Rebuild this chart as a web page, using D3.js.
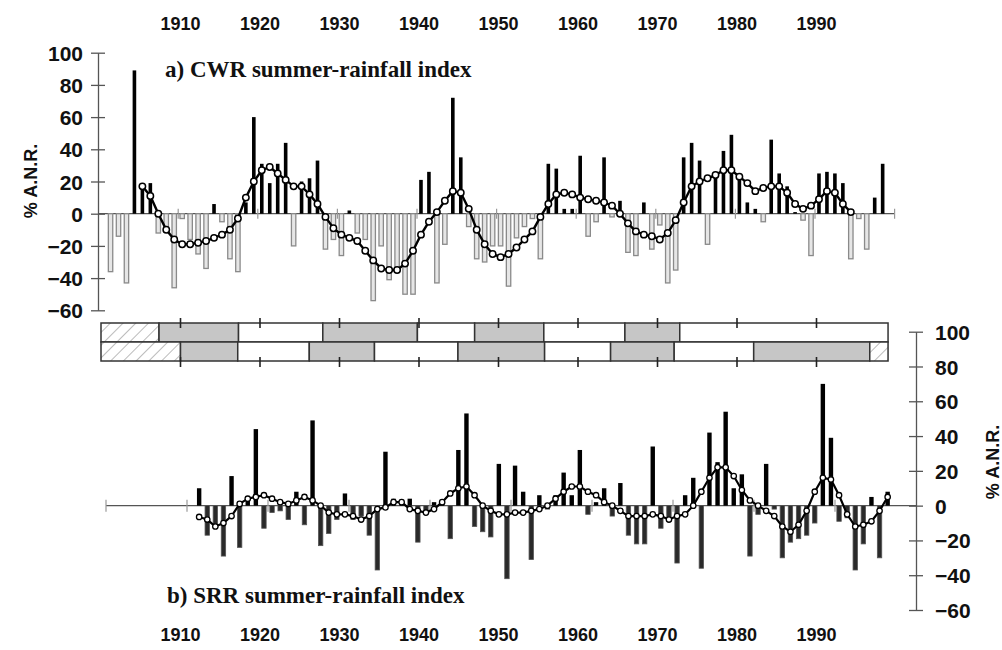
<!DOCTYPE html>
<html><head><meta charset="utf-8">
<script src="https://cdn.jsdelivr.net/npm/d3@7"></script>
<style>body{margin:0;background:#fff}svg{display:block}</style>
</head><body>
<svg id="c" width="1002" height="650"></svg>
<script>
// ---------- DATA ----------
const yearLabels = [1910,1920,1930,1940,1950,1960,1970,1980,1990];
const yTickValues = [100,80,60,40,20,0,-20,-40,-60];

// a) CWR summer-rainfall index, 1901-1998
const cwrYears = d3.range(1901, 1999);
const cwrValues = [-36,-14,-43,89,19,19,-12,-8,-46,-3,
  -16,-25,-34,6,-5,-28,-36,7,60,31,
  19,31,44,-20,20,22,33,-22,-16,-26,
  2,-12,-16,-54,-20,-41,-35,-50,-50,21,
  26,-43,-19,72,35,-8,-28,-30,-20,-20,
  -45,-15,-8,-3,-28,31,28,3,3,36,
  -14,-5,35,-2,8,-24,-26,7,-22,-7,
  -43,-35,35,44,33,-19,25,39,49,21,
  7,3,-5,46,25,17,1,-4,-26,25,
  26,25,19,-28,-3,-22,10,31];
// smoothed CWR, 1905-1994
const cwrSmoothYears = d3.range(1905, 1995);
const cwrSmooth = [17,11,0,-10,-16,-19,-19,-18,-17,-15,
  -13,-10,-3,10,20,27,29,25,21,17,
  17,12,6,-2,-9,-13,-15,-17,-23,-29,
  -34,-35,-35,-31,-23,-13,-5,1,8,14,
  13,3,-10,-19,-25,-27,-25,-21,-16,-11,
  -2,6,12,13,12,10,9,8,7,5,
  0,-6,-11,-13,-14,-16,-12,-4,7,17,
  20,22,24,27,27,23,19,14,16,17,
  17,13,6,3,5,9,14,13,6,1];

// b) SRR summer-rainfall index, 1911-1996
const srrYears = d3.range(1911, 1997);
const srrValues = [10,-17,-12,-29,17,-24,3,44,-13,-4,
  -3,-8,8,-11,49,-23,-16,-8,7,-8,
  -6,-17,-37,31,4,2,4,-21,-3,2,
  1,-19,32,53,-12,-15,-18,24,-42,23,
  8,-31,6,-2,6,19,6,32,-5,2,
  10,-6,13,-17,-22,-22,34,-13,-9,-33,
  6,16,-36,42,25,54,10,18,-29,-5,
  24,-2,-30,-21,-19,-17,-10,70,39,-9,
  -7,-37,-22,5,-30,8];
const srrSmooth = [-6.5,-8,-12,-10,-6,1,4,5,6,4,
  2,1,3,5,3,0,-4,-5,-5,-6,
  -8,-6,-2,-1,2,2,-2,-3,-4,-2,
  2,7,10,11,6,0,-3,-5,-5,-4,
  -4,-3,-2,0,4,8,11,11,8,6,
  2,0,-3,-6,-6,-6,-5,-6,-8,-6,
  -5,0,8,16,22,22,17,9,3,0,
  -3,-6,-12,-15,-11,-3,8,16,15,6,
  -5,-12,-11,-9,-3,5];

// wet/dry spell band (boundaries in years)
const bandTopBreaks = [1900,1907.3,1917.3,1927.9,1939.8,1947,1955.7,1965.9,1972.8,1999];
const bandTopKinds  = ["hatch","grey","white","grey","white","grey","white","grey","white"];
const bandBotBreaks = [1900,1910,1917.2,1926.2,1934.4,1944.9,1955.8,1964.1,1972.1,1982.1,1996.7,1999];
const bandBotKinds  = ["hatch","grey","white","grey","white","grey","white","grey","white","grey","hatch"];

// ---------- DRAW ----------
const svg = d3.select("#c");
svg.append("rect").attr("width",1002).attr("height",650).attr("fill","#fff");
const SANS = "'Liberation Sans', Arial, Helvetica, sans-serif";
const SERIF = "'Liberation Serif', 'Times New Roman', serif";
const AX = "#555";

const defs = svg.append("defs");
const pat = defs.append("pattern").attr("id","hatch").attr("patternUnits","userSpaceOnUse")
  .attr("width",9).attr("height",9).attr("patternTransform","rotate(45)");
pat.append("rect").attr("width",9).attr("height",9).attr("fill","#fff");
pat.append("line").attr("x1",0).attr("y1",0).attr("x2",0).attr("y2",9).attr("stroke","#aaa").attr("stroke-width",1.6);

// scales
const xTop = d3.scaleLinear().domain([1900,2000]).range([98.6, 894.6]);
const yTop = d3.scaleLinear().domain([-60,100]).range([310.3, 52.7]);
const xBot = d3.scaleLinear().domain([1900,2000]).range([106, 916]);
const yBot = d3.scaleLinear().domain([-60,100]).range([610, 331.7]);
const xBand = d3.scaleLinear().domain([1900,2000]).range([101, 896]);
const decades = d3.range(1900, 2001, 10);

// ---- Top panel ----
const gT = svg.append("g");
const axL = d3.axisLeft(yTop).tickValues(yTickValues).tickSize(0).tickPadding(0).tickFormat(d3.format("d"));
const gAxL = gT.append("g").attr("transform","translate(98,0)").call(axL);
gAxL.select(".domain").attr("stroke",AX).attr("stroke-width",1.3);
gAxL.selectAll(".tick text").attr("x",-15).attr("font-family",SANS).attr("font-weight","bold")
  .attr("font-size",21).attr("fill","#111").attr("dy","0.36em");
gAxL.selectAll(".tick").append("line").attr("x1",-7).attr("x2",7).attr("stroke",AX).attr("stroke-width",1.3);

gT.append("line").attr("x1",xTop(1900)).attr("x2",xTop(2000)).attr("y1",yTop(0)).attr("y2",yTop(0))
  .attr("stroke",AX).attr("stroke-width",1.2);
gT.selectAll(".zt").data(decades.slice(1)).join("line")
  .attr("x1",d=>xTop(d)).attr("x2",d=>xTop(d)).attr("y1",yTop(0)-5).attr("y2",yTop(0)+5)
  .attr("stroke","#999").attr("stroke-width",1.2);

const cwr = cwrYears.map((y,i)=>({y, v:cwrValues[i]}));
gT.selectAll(".bn").data(cwr.filter(d=>d.v<0)).join("rect")
  .attr("x",d=>xTop(d.y+0.5)-2.2).attr("width",4.4)
  .attr("y",yTop(0)).attr("height",d=>yTop(d.v)-yTop(0))
  .attr("fill","#e6e6e6").attr("stroke","#8a8a8a").attr("stroke-width",1.3);
gT.selectAll(".bp").data(cwr.filter(d=>d.v>=0)).join("rect")
  .attr("x",d=>xTop(d.y+0.5)-1.8).attr("width",3.6)
  .attr("y",d=>yTop(d.v)).attr("height",d=>yTop(0)-yTop(d.v))
  .attr("fill","#000");

const cs = cwrSmoothYears.map((y,i)=>({y, v:cwrSmooth[i]}));
gT.append("path").datum(cs)
  .attr("d", d3.line().x(d=>xTop(d.y+0.5)).y(d=>yTop(d.v)))
  .attr("fill","none").attr("stroke","#000").attr("stroke-width",2.4);
gT.selectAll(".cc").data(cs).join("circle")
  .attr("cx",d=>xTop(d.y+0.5)).attr("cy",d=>yTop(d.v)).attr("r",3.2)
  .attr("fill","#fff").attr("stroke","#000").attr("stroke-width",1.5);

gT.append("text").attr("x",165).attr("y",77).attr("font-family",SERIF).attr("font-weight","bold")
  .attr("font-size",23).attr("fill","#111").text("a) CWR summer-rainfall index");
gT.append("text").attr("transform","translate(37,181) rotate(-90)").attr("text-anchor","middle")
  .attr("font-family",SANS).attr("font-weight","bold").attr("font-size",18).attr("fill","#111").text("% A.N.R.");

svg.append("g").selectAll("text").data(yearLabels).join("text")
  .attr("x",d=>xBand(d)).attr("y",30).attr("text-anchor","middle")
  .attr("font-family",SANS).attr("font-weight","bold").attr("font-size",18).attr("fill","#111").text(d=>d);
svg.append("g").selectAll("text").data(yearLabels).join("text")
  .attr("x",d=>xBand(d)).attr("y",641).attr("text-anchor","middle")
  .attr("font-family",SANS).attr("font-weight","bold").attr("font-size",18).attr("fill","#111").text(d=>d);

// ---- Band ----
const gB = svg.append("g");
function segs(breaks, kinds){ return kinds.map((k,i)=>({a:breaks[i], b:breaks[i+1], k})); }
const fills = {hatch:"url(#hatch)", grey:"#c6c6c6", white:"#fff"};
const rowY = [{y0:323,y1:342,data:segs(bandTopBreaks,bandTopKinds)},{y0:342,y1:361,data:segs(bandBotBreaks,bandBotKinds)}];
rowY.forEach(r=>{
  gB.append("g").selectAll("rect").data(r.data).join("rect")
    .attr("x",d=>xBand(d.a)).attr("width",d=>xBand(d.b)-xBand(d.a))
    .attr("y",r.y0).attr("height",r.y1-r.y0)
    .attr("fill",d=>fills[d.k]).attr("stroke","#333").attr("stroke-width",1.5);
});
gB.selectAll(".tt").data(yearLabels).join("line")
  .attr("x1",d=>xBand(d)).attr("x2",d=>xBand(d)).attr("y1",318).attr("y2",328)
  .attr("stroke","#222").attr("stroke-width",1.6);
gB.selectAll(".tb").data(yearLabels).join("line")
  .attr("x1",d=>xBand(d)).attr("x2",d=>xBand(d)).attr("y1",357).attr("y2",367)
  .attr("stroke","#222").attr("stroke-width",1.6);

// ---- Bottom panel ----
const gS = svg.append("g");
const axR = d3.axisRight(yBot).tickValues(yTickValues).tickSize(0).tickPadding(0).tickFormat(d3.format("d"));
const gAxR = gS.append("g").attr("transform","translate(916,0)").call(axR);
gAxR.select(".domain").attr("stroke",AX).attr("stroke-width",1.3);
gAxR.selectAll(".tick text").attr("x",19).attr("font-family",SANS).attr("font-weight","bold")
  .attr("font-size",21).attr("fill","#111").attr("dy","0.36em");
gAxR.selectAll(".tick").append("line").attr("x1",-7).attr("x2",7).attr("stroke",AX).attr("stroke-width",1.3);

gS.append("line").attr("x1",xBot(1900)).attr("x2",xBot(2000)).attr("y1",yBot(0)).attr("y2",yBot(0))
  .attr("stroke",AX).attr("stroke-width",1.2);
gS.selectAll(".zt").data(decades.slice(0,-1)).join("line")
  .attr("x1",d=>xBot(d)).attr("x2",d=>xBot(d)).attr("y1",yBot(0)-6).attr("y2",yBot(0)+6)
  .attr("stroke","#999").attr("stroke-width",1.2);

const srr = srrYears.map((y,i)=>({y, v:srrValues[i]}));
gS.selectAll(".b").data(srr).join("rect")
  .attr("x",d=>xBot(d.y+0.5)-2.2).attr("width",4.4)
  .attr("y",d=>yBot(Math.max(0,d.v))).attr("height",d=>Math.abs(yBot(d.v)-yBot(0)))
  .attr("fill",d=>d.v>=0?"#000":"#2a2a2a").attr("stroke",d=>d.v>=0?"none":"#555").attr("stroke-width",0.8);

const ss = srrYears.map((y,i)=>({y, v:srrSmooth[i]}));
gS.append("path").datum(ss)
  .attr("d", d3.line().x(d=>xBot(d.y+0.5)).y(d=>yBot(d.v)))
  .attr("fill","none").attr("stroke","#000").attr("stroke-width",2.2);
gS.selectAll(".sc").data(ss).join("circle")
  .attr("cx",d=>xBot(d.y+0.5)).attr("cy",d=>yBot(d.v)).attr("r",2.7)
  .attr("fill","#fff").attr("stroke","#000").attr("stroke-width",1.3);

gS.append("text").attr("x",167).attr("y",603).attr("font-family",SERIF).attr("font-weight","bold")
  .attr("font-size",23).attr("fill","#111").text("b) SRR summer-rainfall index");
gS.append("text").attr("transform","translate(999,462) rotate(-90)").attr("text-anchor","middle")
  .attr("font-family",SANS).attr("font-weight","bold").attr("font-size",18).attr("fill","#111").text("% A.N.R.");
</script>
</body></html>
